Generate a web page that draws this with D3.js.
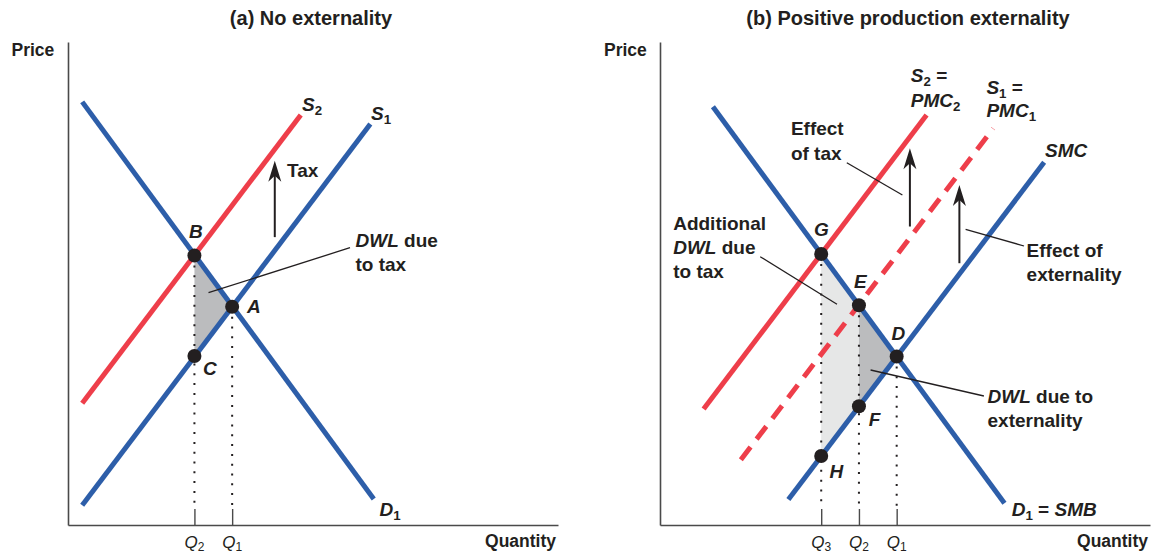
<!DOCTYPE html>
<html><head><meta charset="utf-8">
<script src="https://cdn.jsdelivr.net/npm/d3@7"></script>
<style>
body{margin:0;background:#fff}
svg{display:block}
text{font-family:"Liberation Sans",Arial,sans-serif;fill:#231f20}
</style>
</head><body>
<svg id="chart" width="1153" height="555"></svg>
<script>
// ---------------- DATA ----------------
const panelTitles = ["(a) No externality", "(b) Positive production externality"];
const axisLabels = ["Price", "Quantity"];

// Panel (a): quantity / price units (0-100)
const aDemand  = [[2.9, 87.6], [62.4, 5.4]];
const aSupply1 = [[2.9, 4.1],  [61.7, 83.0]];
const aSupply2 = [[2.9, 25.2], [47.5, 84.9]];
const aPoints  = [{id: "B", q: 25.8, p: 55.8}, {id: "A", q: 33.5, p: 45.2}, {id: "C", q: 25.8, p: 35.0}];
const aQuantities = [{q: 25.8, sub: "2", from: "B"}, {q: 33.5, sub: "1", from: "A"}];
const aDWL = ["B", "A", "C"];
const aArrows = [{q: 42.2, p0: 59.6, p1: 75.4}];

// Panel (b)
const bDemand = [[10.8, 86.6], [70.3, 4.5]];
const bPMC2   = [[8.9, 24.0],  [54.4, 84.9]];
const bPMC1   = [[16.5, 13.5], [68.0, 82.1]];
const bSMC    = [[26.2, 5.3],  [78.4, 75.1]];
const bPoints = [{id: "G", q: 32.9, p: 56.1}, {id: "E", q: 40.6, p: 45.5}, {id: "D", q: 48.3, p: 34.9},
                 {id: "F", q: 40.6, p: 24.6}, {id: "H", q: 32.9, p: 14.3}];
const bQuantities = [{q: 32.9, sub: "3", from: "G"}, {q: 40.6, sub: "2", from: "E"}, {q: 48.3, sub: "1", from: "D"}];
const bAddDWL = ["G", "E", "F", "H"];
const bDWL = ["E", "D", "F"];
const bArrows = [{q: 51.0, p0: 61.8, p1: 78.0}, {q: 61.1, p0: 54.2, p1: 70.4}];

// ---------------- STYLE ----------------
const BLUE = "#2d5ea9", RED = "#ee3e4a", DARK = "#bbbcbe", LIGHT = "#e6e7e7", INK = "#231f20";
const svg = d3.select("#chart");

const y  = d3.scaleLinear([0, 100], [525, 42]);
const xA = d3.scaleLinear([0, 100], [68, 558]);
const xB = d3.scaleLinear([0, 100], [660, 1150]);

function rich(g, x, yy, parts, size, anchor) {
  const t = g.append("text").attr("x", x).attr("y", yy).attr("font-size", size)
    .attr("font-weight", "bold").attr("text-anchor", anchor || "start");
  let shifted = 0;
  parts.forEach(pt => {
    const [s, st] = pt;
    const ts = t.append("tspan").text(s);
    if (st && st.includes("i")) ts.attr("font-style", "italic");
    if (st && st.includes("n")) ts.attr("font-weight", "normal");
    if (st && st.includes("s")) {
      ts.attr("font-size", size * 0.7).attr("dy", 4 - shifted).attr("font-style", "normal");
      shifted = 4;
    } else if (shifted) { ts.attr("dy", -shifted); shifted = 0; }
  });
  return t;
}

function drawPanel(cfg) {
  const x = cfg.x;
  const g = svg.append("g");
  const pt = Object.fromEntries(cfg.points.map(d => [d.id, d]));
  const line = d3.line().x(d => x(d[0])).y(d => y(d[1]));
  const poly = ids => line(ids.map(id => [pt[id].q, pt[id].p])) + "Z";

  // title
  g.append("text").attr("x", cfg.titleX).attr("y", 25).attr("text-anchor", "middle")
    .attr("font-size", 20).attr("font-weight", "bold").text(cfg.title);

  // axes
  const ax = g.append("g").attr("transform", `translate(0,${y(0)})`)
    .call(d3.axisBottom(x).tickValues(cfg.quantities.map(d => d.q)).tickSizeInner(-16)
      .tickSizeOuter(0).tickFormat(() => ""));
  const ay = g.append("g").attr("transform", `translate(${x(0)},0)`)
    .call(d3.axisLeft(y).tickValues([]).tickSizeOuter(0));
  [ax, ay].forEach(a => { a.select(".domain").attr("stroke", "#4a4a4a").attr("stroke-width", 1.6);
    a.selectAll(".tick line").attr("stroke", "#4a4a4a").attr("stroke-width", 1.4); });
  ax.selectAll(".tick text").remove();
  cfg.quantities.forEach(d => {
    const t = g.append("text").attr("x", x(d.q)).attr("y", 548).attr("text-anchor", "middle")
      .attr("font-size", 17).attr("fill", "#3a3a3a");
    t.append("tspan").attr("font-style", "italic").text("Q");
    t.append("tspan").attr("font-size", 12).attr("dy", 3).text(d.sub);
  });
  g.append("text").attr("x", cfg.priceX).attr("y", 56).attr("font-size", 17.5)
    .attr("font-weight", "bold").text(axisLabels[0]);
  g.append("text").attr("x", x(100) - 2).attr("y", 547).attr("text-anchor", "end")
    .attr("font-size", 17.5).attr("font-weight", "bold").text(axisLabels[1]);

  // areas
  (cfg.light || []).forEach(ids => g.append("path").attr("d", poly(ids)).attr("fill", LIGHT));
  (cfg.dark || []).forEach(ids => g.append("path").attr("d", poly(ids)).attr("fill", DARK));

  // dotted drop lines
  cfg.quantities.forEach(d => {
    const p = pt[d.from];
    g.append("line").attr("x1", x(d.q)).attr("x2", x(d.q)).attr("y1", y(p.p) + 10).attr("y2", 507)
      .attr("stroke", INK).attr("stroke-width", 2).attr("stroke-dasharray", "2 7.8");
  });

  // curves
  cfg.curves.forEach(c => {
    g.append("path").attr("d", line(c.data)).attr("fill", "none").attr("stroke", c.color)
      .attr("stroke-width", 5).attr("stroke-dasharray", c.dash || null);
  });

  // leader lines
  cfg.leaders.forEach(l => g.append("line").attr("x1", l[0]).attr("y1", l[1]).attr("x2", l[2]).attr("y2", l[3])
    .attr("stroke", INK).attr("stroke-width", 1.3));

  // arrows
  cfg.arrows.forEach(a => {
    const ax_ = x(a.q), yb = y(a.p0), yt = y(a.p1);
    g.append("line").attr("x1", ax_).attr("x2", ax_).attr("y1", yb).attr("y2", yt + 14)
      .attr("stroke", INK).attr("stroke-width", 2);
    g.append("path").attr("d", `M${ax_},${yt}L${ax_ - 6.5},${yt + 21}L${ax_},${yt + 15}L${ax_ + 6.5},${yt + 21}Z`)
      .attr("fill", INK);
  });

  // points
  g.selectAll("circle.pt").data(cfg.points).join("circle").attr("class", "pt")
    .attr("cx", d => x(d.q)).attr("cy", d => y(d.p)).attr("r", 7).attr("fill", INK);

  // labels
  cfg.labels.forEach(l => rich(g, l.x, l.y, l.parts, l.size || 19));
}

drawPanel({
  x: xA, title: panelTitles[0], titleX: 311, priceX: 11.5,
  points: aPoints, quantities: aQuantities, dark: [aDWL],
  curves: [{data: aDemand, color: BLUE}, {data: aSupply1, color: BLUE}, {data: aSupply2, color: RED}],
  arrows: aArrows,
  leaders: [[350, 247.7, 208.5, 292.7]],
  labels: [
    {x: 302, y: 111, parts: [["S", "i"], ["2", "s"]]},
    {x: 371, y: 120, parts: [["S", "i"], ["1", "s"]]},
    {x: 379.5, y: 516, parts: [["D", "i"], ["1", "s"]]},
    {x: 189, y: 238, parts: [["B", "i"]]},
    {x: 247, y: 313, parts: [["A", "i"]]},
    {x: 203, y: 375, parts: [["C", "i"]]},
    {x: 287, y: 177, parts: [["Tax", ""]]},
    {x: 355.5, y: 247, parts: [["DWL", "i"], [" due", ""]]},
    {x: 355.5, y: 270.5, parts: [["to tax", ""]]}
  ]
});

drawPanel({
  x: xB, title: panelTitles[1], titleX: 908, priceX: 604,
  points: bPoints, quantities: bQuantities, light: [bAddDWL], dark: [bDWL],
  curves: [{data: bDemand, color: BLUE}, {data: bSMC, color: BLUE}, {data: bPMC2, color: RED},
           {data: bPMC1, color: RED, dash: "16 10"}],
  arrows: bArrows,
  leaders: [[846.8, 162.7, 902.4, 195], [965.6, 229.3, 1024, 246], [760.2, 256.7, 837, 304.3], [870.6, 370, 983.9, 396]],
  labels: [
    {x: 910.8, y: 82, parts: [["S", "i"], ["2", "s"], [" =", ""]]},
    {x: 910.8, y: 107, parts: [["PMC", "i"], ["2", "s"]]},
    {x: 986.4, y: 94, parts: [["S", "i"], ["1", "s"], [" =", ""]]},
    {x: 986.4, y: 117, parts: [["PMC", "i"], ["1", "s"]]},
    {x: 1045, y: 157, parts: [["SMC", "i"]]},
    {x: 1011.7, y: 516, parts: [["D", "i"], ["1", "s"], [" = ", ""], ["SMB", "i"]]},
    {x: 790.9, y: 135, parts: [["Effect", ""]]},
    {x: 790.9, y: 160, parts: [["of tax", ""]]},
    {x: 1026.6, y: 257.3, parts: [["Effect of", ""]]},
    {x: 1026.6, y: 281, parts: [["externality", ""]]},
    {x: 673.2, y: 230, parts: [["Additional", ""]]},
    {x: 673.2, y: 254, parts: [["DWL", "i"], [" due", ""]]},
    {x: 673.2, y: 277.7, parts: [["to tax", ""]]},
    {x: 987.5, y: 403.3, parts: [["DWL", "i"], [" due to", ""]]},
    {x: 987.5, y: 426.7, parts: [["externality", ""]]},
    {x: 814, y: 236, parts: [["G", "i"]]},
    {x: 854, y: 288, parts: [["E", "i"]]},
    {x: 891.4, y: 340, parts: [["D", "i"]]},
    {x: 868.7, y: 426, parts: [["F", "i"]]},
    {x: 829.6, y: 478, parts: [["H", "i"]]}
  ]
});
</script>
</body></html>
